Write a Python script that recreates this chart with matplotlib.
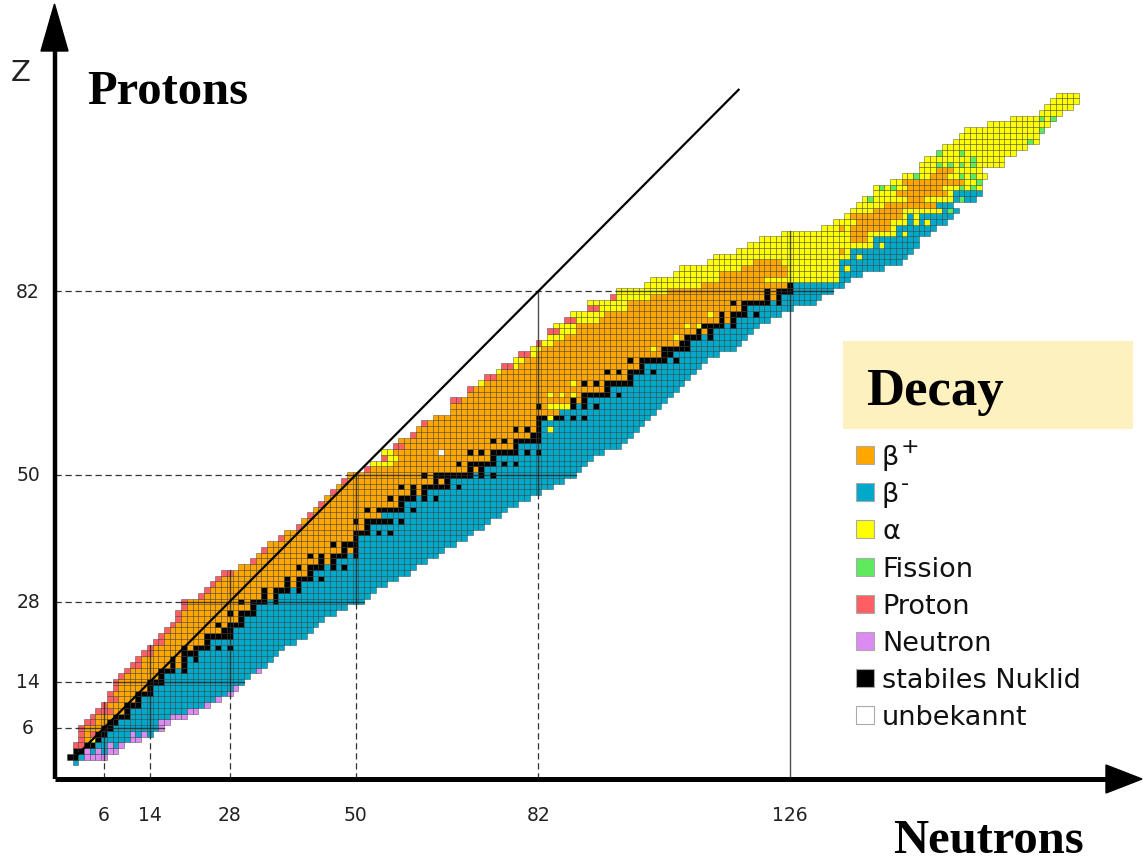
import numpy as np
import matplotlib.pyplot as plt
from matplotlib.collections import PolyCollection
from matplotlib.patches import Rectangle, Polygon

W, H = 1144, 862


# pixel position in the picture -> chart units (N, Z), cell pitch
def nx(px):
    return (px - 69.7) / 5.717


def zy(py):
    return (763.5 - py) / 5.75


# ---- nuclide chart data, one entry per proton number Z (0..116) ----
n_lo = [1,
        0, 1, 1, 2, 2, 2, 3, 4, 5, 6,
        7, 7, 8, 8, 9, 10, 11, 12, 13, 14,
        15, 16, 17, 18, 19, 19, 20, 20, 23, 24,
        25, 26, 27, 30, 32, 33, 34, 35, 37, 38,
        40, 41, 42, 43, 44, 45, 46, 47, 48, 49,
        52, 53, 55, 55, 57, 58, 60, 61, 62, 64,
        67, 67, 67, 70, 70, 72, 73, 75, 76, 78,
        79, 81, 82, 84, 84, 85, 87, 88, 91, 91,
        95, 96, 101, 102, 106, 107, 112, 113, 117, 119,
        121, 125, 132, 134, 136, 137, 138, 139, 141, 141,
        144, 146, 149, 149, 150, 152, 153, 155, 156, 157,
        161, 165, 170, 171, 172, 173]
n_hi = [1,
        6, 8, 9, 12, 14, 16, 17, 20, 22, 24,
        26, 28, 29, 30, 31, 33, 34, 35, 36, 37,
        39, 41, 42, 43, 44, 46, 48, 51, 52, 53,
        55, 57, 59, 60, 62, 64, 65, 67, 69, 70,
        72, 73, 75, 76, 78, 80, 82, 84, 86, 88,
        89, 90, 91, 93, 96, 97, 98, 99, 100, 101,
        102, 103, 104, 105, 106, 107, 108, 109, 110, 111,
        113, 116, 117, 118, 119, 120, 122, 124, 126, 130,
        131, 133, 135, 136, 138, 142, 145, 146, 147, 148,
        148, 150, 151, 153, 154, 155, 154, 158, 159, 159,
        159, 160, 159, 163, 163, 165, 167, 169, 169, 170,
        171, 172, 173, 175, 176, 176]

# stable nuclides (neutron numbers) for Z = 0..83
stable_n = [[],
            [0, 1], [1, 2], [3, 4], [5], [5, 6], [6, 7], [7, 8], [8, 9, 10], [10], [10, 11, 12],
            [12], [12, 13, 14], [14], [14, 15, 16], [16], [16, 17, 18, 20], [18, 20], [18, 20, 22],
            [20, 21, 22], [20, 22, 23, 24, 26, 28],
            [24], [24, 25, 26, 27, 28], [27, 28], [26, 28, 29, 30], [30], [28, 30, 31, 32], [32],
            [30, 32, 33, 34, 36], [34, 36], [34, 36, 37, 38, 40],
            [38, 40], [38, 40, 41, 42, 44], [42], [40, 42, 43, 44, 46, 48], [44, 46],
            [42, 44, 46, 47, 48, 50], [48, 50], [46, 48, 49, 50], [50], [50, 51, 52, 54, 56],
            [52], [50, 52, 53, 54, 55, 56, 58], [], [52, 54, 55, 56, 57, 58, 60], [58],
            [56, 58, 59, 60, 62, 64], [60, 62], [58, 60, 62, 63, 64, 65, 66, 68], [64, 66],
            [62, 64, 65, 66, 67, 68, 69, 70, 72, 74],
            [70, 72], [68, 70, 71, 72, 73, 74, 76, 78], [74], [70, 72, 74, 75, 76, 77, 78, 80, 82],
            [78], [74, 76, 78, 79, 80, 81, 82], [81, 82], [78, 80, 82, 84], [82], [82, 83, 85, 86, 88, 90],
            [], [82, 88, 90, 92], [88, 90], [90, 91, 92, 93, 94, 96], [94], [90, 92, 94, 95, 96, 97, 98],
            [98], [94, 96, 98, 99, 100, 102], [100], [98, 100, 101, 102, 103, 104, 106],
            [104, 105], [102, 104, 105, 106, 107, 108], [107, 108], [106, 108, 109, 110, 112],
            [110, 112], [108, 110, 111, 112, 113, 114, 116], [114, 116], [112, 114, 116, 117, 118, 120],
            [118], [116, 118, 119, 120, 121, 122, 124],
            [122, 124], [122, 124, 125, 126], [126]]
split_nostable = {0: 0.0, 43: 54.5, 61: 85.5}

# light / medium nuclei (Z = 0..82): proton emitters and alpha emitters on the left edge
p_n = [0, 0, 0, 2, 1, 1, 1, 2, 1, 3, 1,
       2, 1, 1, 1, 1, 1, 2, 1, 2, 1,
       2, 1, 1, 1, 1, 1, 1, 1, 1, 1,
       1, 1, 2, 0, 1, 0, 1, 0, 1, 0,
       1, 0, 1, 0, 1, 0, 1, 0, 1, 0,
       1, 0, 1, 0, 2, 0, 1, 0, 1, 0,
       0, 0, 2, 0, 1, 0, 2, 0, 2, 0,
       2, 0, 1, 0, 2, 0, 2, 0, 2, 0,
       1, 0]
a_n = [0, 0, 0, 0, 0, 0, 0, 0, 0, 0, 0,
       0, 0, 0, 0, 0, 0, 0, 0, 0, 0,
       0, 0, 0, 0, 0, 0, 0, 0, 0, 0,
       0, 0, 0, 0, 0, 0, 0, 0, 0, 0,
       0, 0, 0, 0, 0, 0, 0, 0, 0, 0,
       0, 4, 2, 2, 0, 0, 0, 0, 0, 0,
       0, 0, 0, 0, 0, 1, 0, 1, 1, 2,
       1, 2, 2, 3, 3, 4, 4, 6, 5, 7,
       6, 9]
# neutron emitters on the right edge (Z = 0..20)
nn = [0, 4, 2, 1, 2, 0, 1, 2, 3, 2, 1, 1, 1, 1, 0, 0, 1, 0, 0, 0, 0]

# heavy nuclei Z = 83..116: beta+ pocket and first beta- neutron number
o_lo = [111, 114, 114, 118, 120, 0, 0, 0, 137, 137, 137, 138, 137, 141, 143, 147, 145, 147, 146, 151, 152,
        0, 0, 0, 0, 0, 0, 0, 0, 0, 0, 0, 0, 0]
o_hi = [125, 121, 125, 125, 124, 0, 0, 0, 139, 139, 143, 143, 145, 145, 151, 149, 153, 152, 156, 153, 154,
        0, 0, 0, 0, 0, 0, 0, 0, 0, 0, 0, 0, 0]
b_lo = [127, 135, 135, 135, 135, 137, 137, 141, 141, 145, 145, 147, 147, 153, 152, 155, 155, 999, 999, 999, 999,
        999, 999, 999, 999, 999, 999, 999, 999, 999, 999, 999, 999, 999]

# single cells
alpha_z = [4, 58, 60, 62, 62, 62, 62, 64, 64, 64, 66, 72, 74, 76, 76, 78, 86, 88, 90, 92, 94, 94, 95]
alpha_n = [4, 84, 84, 84, 85, 86, 87, 84, 86, 88, 88, 102, 106, 108, 110, 112, 136, 138, 142, 146, 148, 150, 148]
violet_z = [2, 2, 3, 5, 5]
violet_n = [3, 5, 7, 11, 13]
proton_z = [5]
proton_n = [4]
orange_z = [89, 93]
orange_n = [135, 135]
fission_z = [96, 98, 98, 100, 100, 100, 100, 101, 102, 102, 102, 104, 104, 104, 104, 105, 106, 106, 108, 110, 112, 112]
fission_n = [154, 140, 156, 142, 144, 156, 158, 159, 148, 156, 158, 152, 154, 156, 158, 158, 152, 156, 168, 170, 170, 172]
unknown_z = [54]
unknown_n = [65]

magic_z = [6, 14, 28, 50, 82]
magic_n = [6, 14, 28, 50, 82, 126]
magic_n_top = [10.5, 20.5, 33.5, 50, 82, 92.5]
magic_n_dashed = [True, True, True, True, True, False]

legend_keys = ['bp', 'bm', 'a', 'sf', 'p', 'n', 'st', 'u']
legend_labels = ['β', 'β', 'α', 'Fission', 'Proton', 'Neutron', 'stabiles Nuklid', 'unbekannt']
legend_sups = ['+', '-', '', '', '', '', '', '']

colors = {'bp': '#FFA700', 'bm': '#00A9CA', 'a': '#FFFF00', 'sf': '#5DEB5D', 'p': '#FF5E62',
          'n': '#DC8BF2', 'st': '#000000', 'u': '#FFFFFF'}

# ---- classify each cell ----
kind = {}
for z in range(len(n_lo)):
    ns = list(range(n_lo[z], n_hi[z] + 1))
    if z >= 83:
        i = z - 83
        for n in ns:
            if o_lo[i] and o_lo[i] <= n <= o_hi[i]:
                kind[(n, z)] = 'bp'
            elif n >= b_lo[i]:
                kind[(n, z)] = 'bm'
            else:
                kind[(n, z)] = 'a'
    else:
        st = stable_n[z]
        split = np.mean(st) if st else split_nostable[z]
        for n in ns:
            kind[(n, z)] = 'bm' if n > split else 'bp'
        for n in ns[:p_n[z]]:
            kind[(n, z)] = 'p'
        for n in ns[p_n[z]:p_n[z] + a_n[z]]:
            kind[(n, z)] = 'a'
        if z < len(nn) and nn[z]:
            for n in ns[-nn[z]:]:
                kind[(n, z)] = 'n'
    if z < len(stable_n):
        for n in stable_n[z]:
            kind[(n, z)] = 'st'

for zs, ns_, k in [(alpha_z, alpha_n, 'a'), (violet_z, violet_n, 'n'), (proton_z, proton_n, 'p'),
                   (orange_z, orange_n, 'bp'), (fission_z, fission_n, 'sf'), (unknown_z, unknown_n, 'u')]:
    for z, n in zip(zs, ns_):
        kind[(n, z)] = k

fig = plt.figure(figsize=(W / 100, H / 100), dpi=100)
ax = fig.add_axes([0, 0, 1, 1])
ax.set_xlim(nx(0), nx(W))
ax.set_ylim(zy(H), zy(0))
ax.axis('off')

verts = []
fcs = []
for (n, z), k in kind.items():
    verts.append([(n - 0.5, z - 0.5), (n + 0.5, z - 0.5), (n + 0.5, z + 0.5), (n - 0.5, z + 0.5)])
    fcs.append(colors[k])
ax.add_collection(PolyCollection(verts, facecolors=fcs, edgecolors=(0.15, 0.15, 0.15, 0.45),
                                 linewidths=0.6, zorder=2))

x_axis_z = zy(780)
y_axis_n = nx(54.5)

# magic numbers: dashed from the axes, solid across the nuclides
for z in magic_z:
    left = n_lo[z] - 0.5
    ax.plot([y_axis_n, left], [z, z], color='#333333', lw=0.9, dashes=(5, 3), zorder=3)
    ax.plot([left, n_hi[z] + 0.5], [z, z], color='#222222', lw=1.0, alpha=0.8, zorder=3)
for n, top, dash in zip(magic_n, magic_n_top, magic_n_dashed):
    zs = [z for z in range(len(n_lo)) if n_lo[z] <= n <= n_hi[z]]
    bottom = min(zs) - 0.5
    if dash:
        ax.plot([n, n], [x_axis_z, bottom], color='#333333', lw=0.9, dashes=(5, 3), zorder=3)
        ax.plot([n, n], [bottom, top], color='#222222', lw=1.0, alpha=0.8, zorder=3)
    else:
        ax.plot([n, n], [x_axis_z, top], color='#222222', lw=1.0, alpha=0.8, zorder=3)

# N = Z line
ax.plot([0.9, 117], [0.9, 117], color='black', lw=1.6, zorder=4)

# axes with arrows
ax.plot([y_axis_n, y_axis_n], [x_axis_z, zy(50)], color='black', lw=3.2, solid_capstyle='butt', zorder=5)
ax.plot([y_axis_n, nx(1108)], [x_axis_z, x_axis_z], color='black', lw=3.6, solid_capstyle='butt', zorder=5)
ax.add_patch(Polygon([(nx(41), zy(52)), (nx(68), zy(52)), (nx(54.5), zy(5))], closed=True,
                     color='black', zorder=5))
ax.add_patch(Polygon([(nx(1106), zy(766)), (nx(1106), zy(794)), (nx(1142), zy(780))], closed=True,
                     color='black', zorder=5))

# tick labels
for t in magic_n:
    ax.text(t, zy(816), str(t), ha='center', va='center', fontsize=13.5, color='#222222')
for t in magic_z:
    ax.text(nx(28), t, str(t), ha='center', va='center', fontsize=13.5, color='#222222')

ax.text(nx(21), zy(73), 'Z', ha='center', va='center', fontsize=21, color='#222222')
ax.text(nx(87), zy(104), 'Protons', ha='left', va='baseline', fontsize=35,
        family='Liberation Serif', weight='bold')
ax.text(nx(893), zy(853), 'Neutrons', ha='left', va='baseline', fontsize=35,
        family='Liberation Serif', weight='bold')

# legend
fig.patches.append(Rectangle((843 / W, 1 - 430 / H), 290 / W, 88 / H, transform=fig.transFigure,
                             facecolor='#FEF1C0', edgecolor='none', zorder=1))
fig.text(866 / W, 1 - 405 / H, 'Decay', ha='left', va='baseline', fontsize=38,
         family='Liberation Serif', weight='bold')
for i, (k, lab, sup) in enumerate(zip(legend_keys, legend_labels, legend_sups)):
    yc = 456 + i * 37.2
    fig.patches.append(Rectangle((856 / W, 1 - (yc + 9) / H), 18 / W, 18 / H, transform=fig.transFigure,
                                 facecolor=colors[k], edgecolor='#aaaaaa', lw=0.8))
    fig.text(882 / W, 1 - (yc + 9) / H, lab, ha='left', va='baseline', fontsize=19.5, color='#111111')
    if sup:
        fig.text(901 / W, 1 - (yc - 3) / H, sup, ha='left', va='baseline', fontsize=16, color='#111111')

fig.savefig('out.png', dpi=100)
